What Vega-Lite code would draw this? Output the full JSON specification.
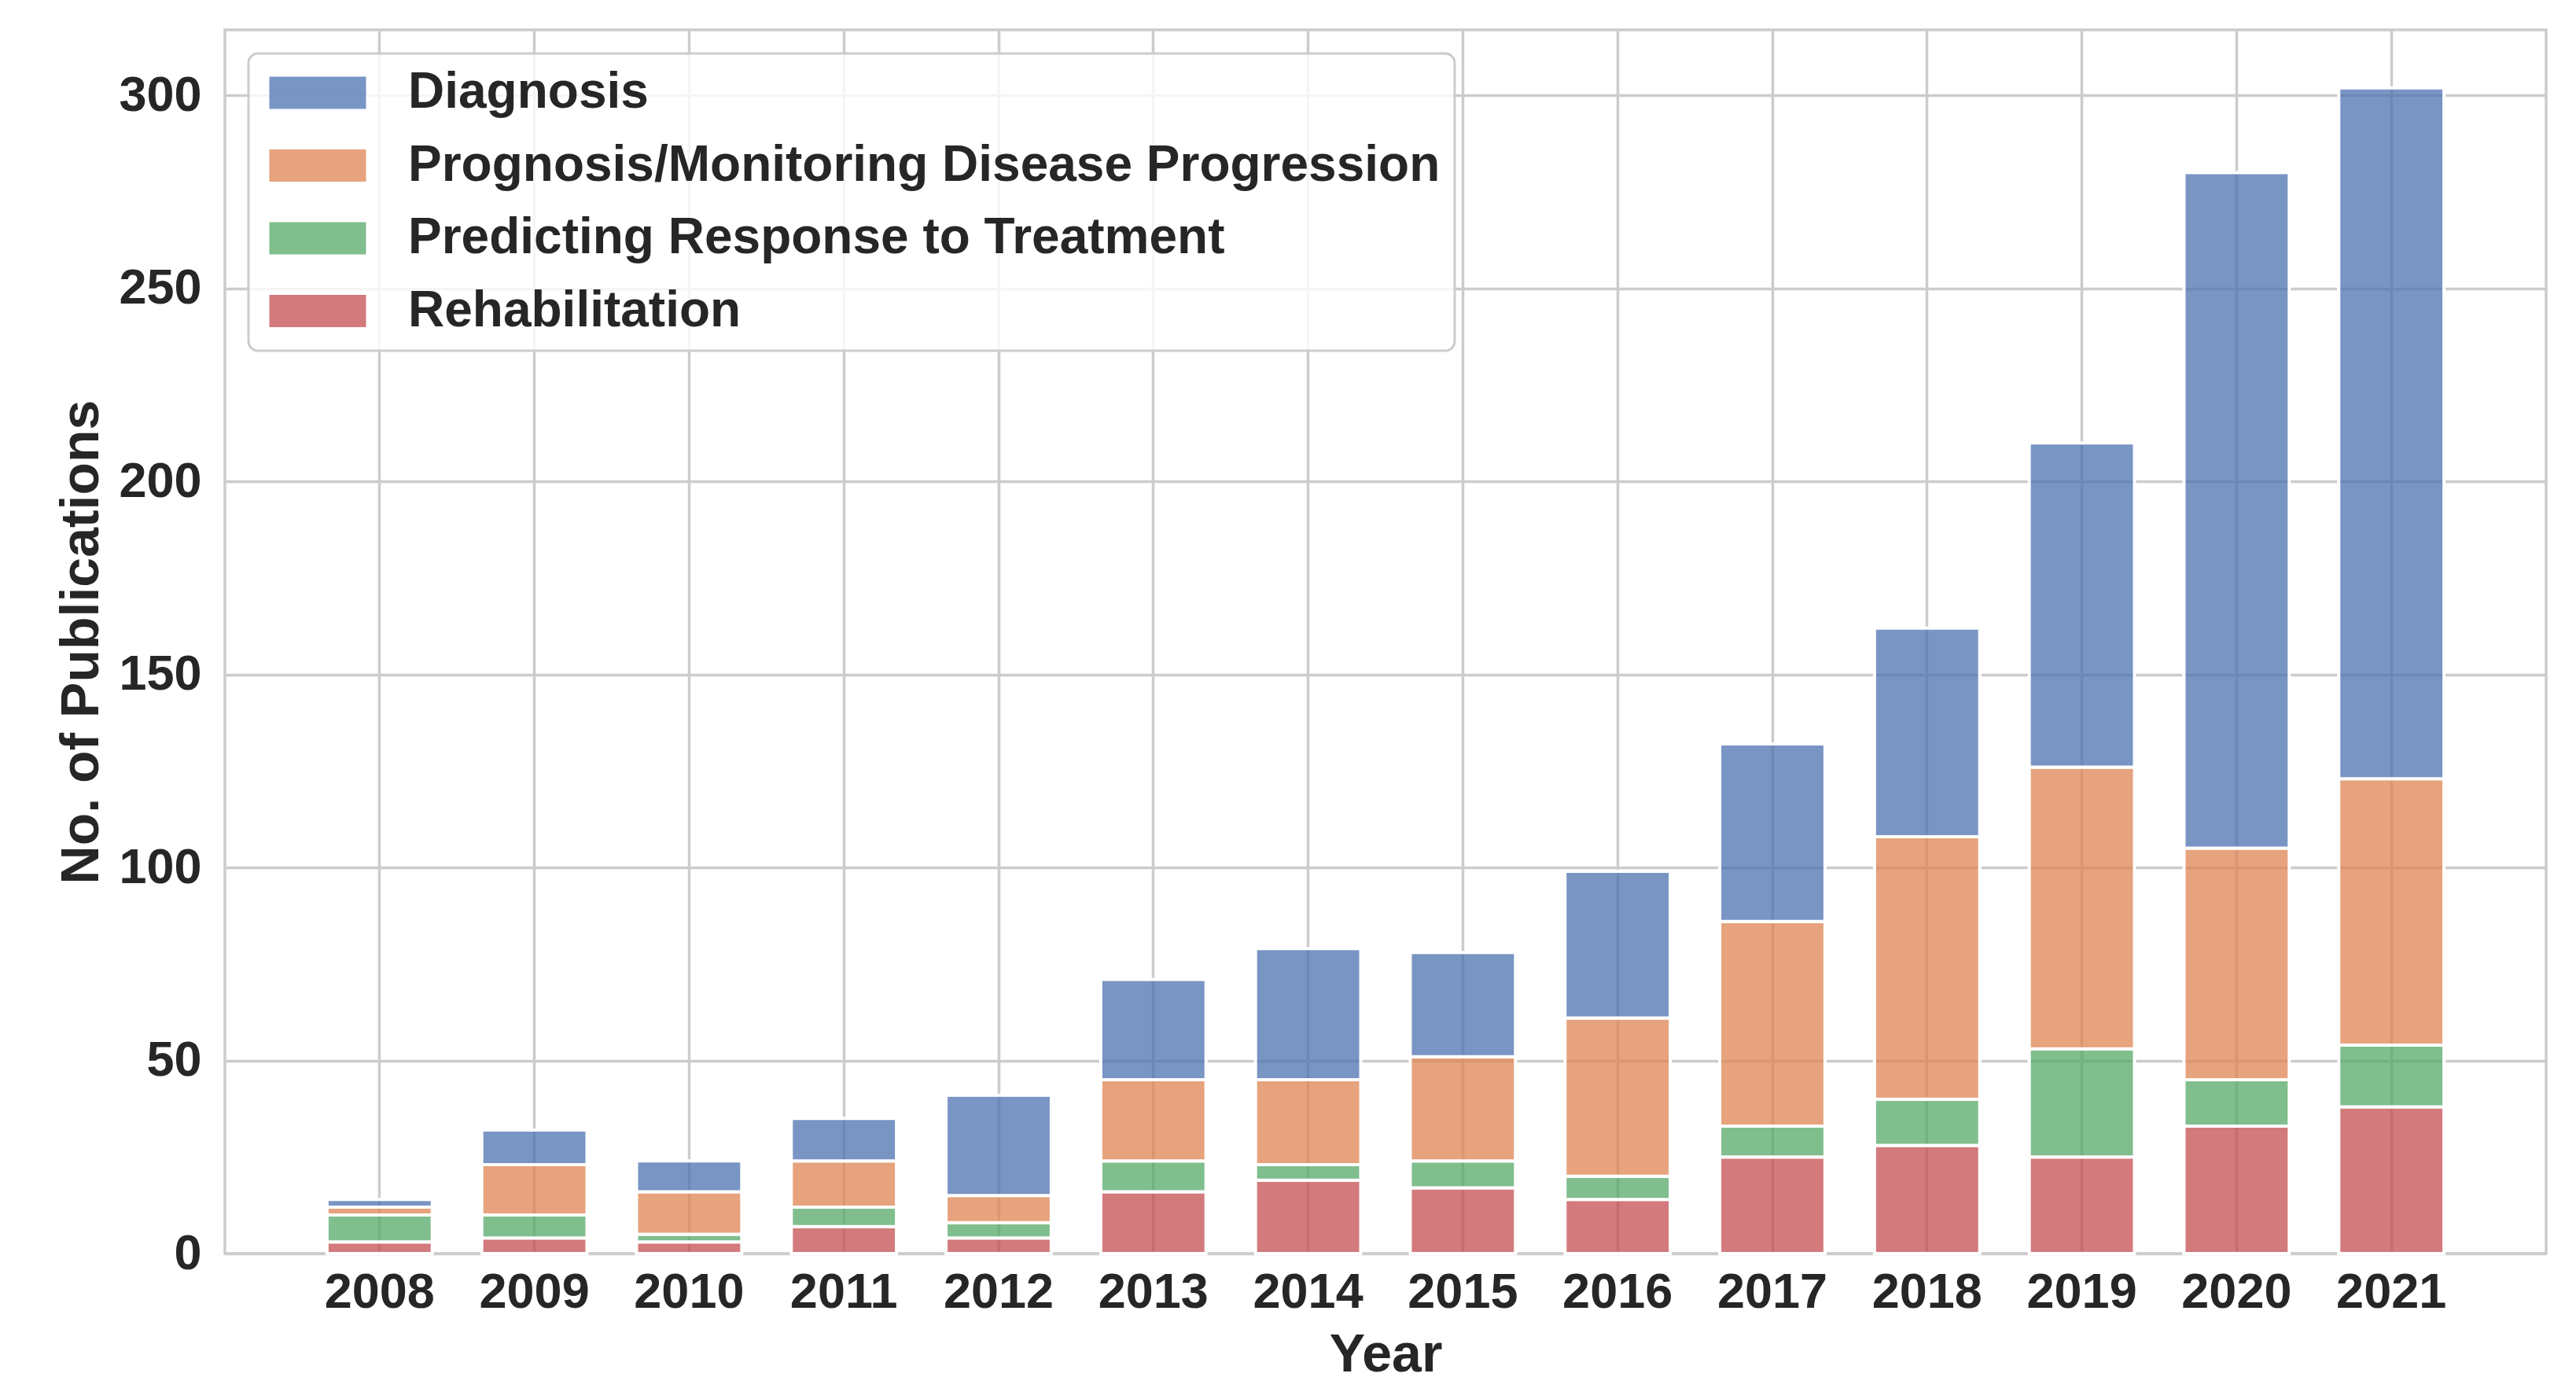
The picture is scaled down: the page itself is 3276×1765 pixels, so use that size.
{
  "$schema": "https://vega.github.io/schema/vega-lite/v6.json",
  "width": 2952,
  "height": 1556,
  "autosize": {"type": "none"},
  "padding": {"left": 286, "top": 38, "right": 38, "bottom": 171},
  "background": "white",
  "config": {
    "font": "Liberation Sans",
    "view": {"stroke": "#cccccc", "strokeWidth": 3.5},
    "axis": {
      "labelFont": "Liberation Sans",
      "titleFont": "Liberation Sans",
      "labelFontWeight": "bold",
      "titleFontWeight": "bold",
      "labelColor": "#262626",
      "titleColor": "#262626",
      "labelFontSize": 63,
      "titleFontSize": 68,
      "ticks": false,
      "domain": false,
      "grid": true,
      "gridColor": "#cccccc",
      "gridWidth": 3.5
    },
    "legend": {
      "labelFont": "Liberation Sans",
      "labelFontWeight": "bold",
      "labelFontSize": 64,
      "labelColor": "#262626",
      "labelLimit": 3000,
      "labelOffset": 83,
      "symbolOffset": 38,
      "rowPadding": 28.5,
      "padding": 18,
      "strokeColor": "#cccccc",
      "strokeWidth": 3,
      "cornerRadius": 12,
      "fillColor": "rgba(255,255,255,0.8)",
      "symbolType": "M-3,-1H3V1H-3Z",
      "symbolSize": 1681,
      "symbolStrokeWidth": 0,
      "symbolOpacity": 0.75
    }
  },
  "data": {
    "values": [
      {"year": "2008", "category": "Rehabilitation", "count": 3, "stack": 1},
      {"year": "2008", "category": "Predicting Response to Treatment", "count": 7, "stack": 2},
      {"year": "2008", "category": "Prognosis/Monitoring Disease Progression", "count": 2, "stack": 3},
      {"year": "2008", "category": "Diagnosis", "count": 2, "stack": 4},
      {"year": "2009", "category": "Rehabilitation", "count": 4, "stack": 1},
      {"year": "2009", "category": "Predicting Response to Treatment", "count": 6, "stack": 2},
      {"year": "2009", "category": "Prognosis/Monitoring Disease Progression", "count": 13, "stack": 3},
      {"year": "2009", "category": "Diagnosis", "count": 9, "stack": 4},
      {"year": "2010", "category": "Rehabilitation", "count": 3, "stack": 1},
      {"year": "2010", "category": "Predicting Response to Treatment", "count": 2, "stack": 2},
      {"year": "2010", "category": "Prognosis/Monitoring Disease Progression", "count": 11, "stack": 3},
      {"year": "2010", "category": "Diagnosis", "count": 8, "stack": 4},
      {"year": "2011", "category": "Rehabilitation", "count": 7, "stack": 1},
      {"year": "2011", "category": "Predicting Response to Treatment", "count": 5, "stack": 2},
      {"year": "2011", "category": "Prognosis/Monitoring Disease Progression", "count": 12, "stack": 3},
      {"year": "2011", "category": "Diagnosis", "count": 11, "stack": 4},
      {"year": "2012", "category": "Rehabilitation", "count": 4, "stack": 1},
      {"year": "2012", "category": "Predicting Response to Treatment", "count": 4, "stack": 2},
      {"year": "2012", "category": "Prognosis/Monitoring Disease Progression", "count": 7, "stack": 3},
      {"year": "2012", "category": "Diagnosis", "count": 26, "stack": 4},
      {"year": "2013", "category": "Rehabilitation", "count": 16, "stack": 1},
      {"year": "2013", "category": "Predicting Response to Treatment", "count": 8, "stack": 2},
      {"year": "2013", "category": "Prognosis/Monitoring Disease Progression", "count": 21, "stack": 3},
      {"year": "2013", "category": "Diagnosis", "count": 26, "stack": 4},
      {"year": "2014", "category": "Rehabilitation", "count": 19, "stack": 1},
      {"year": "2014", "category": "Predicting Response to Treatment", "count": 4, "stack": 2},
      {"year": "2014", "category": "Prognosis/Monitoring Disease Progression", "count": 22, "stack": 3},
      {"year": "2014", "category": "Diagnosis", "count": 34, "stack": 4},
      {"year": "2015", "category": "Rehabilitation", "count": 17, "stack": 1},
      {"year": "2015", "category": "Predicting Response to Treatment", "count": 7, "stack": 2},
      {"year": "2015", "category": "Prognosis/Monitoring Disease Progression", "count": 27, "stack": 3},
      {"year": "2015", "category": "Diagnosis", "count": 27, "stack": 4},
      {"year": "2016", "category": "Rehabilitation", "count": 14, "stack": 1},
      {"year": "2016", "category": "Predicting Response to Treatment", "count": 6, "stack": 2},
      {"year": "2016", "category": "Prognosis/Monitoring Disease Progression", "count": 41, "stack": 3},
      {"year": "2016", "category": "Diagnosis", "count": 38, "stack": 4},
      {"year": "2017", "category": "Rehabilitation", "count": 25, "stack": 1},
      {"year": "2017", "category": "Predicting Response to Treatment", "count": 8, "stack": 2},
      {"year": "2017", "category": "Prognosis/Monitoring Disease Progression", "count": 53, "stack": 3},
      {"year": "2017", "category": "Diagnosis", "count": 46, "stack": 4},
      {"year": "2018", "category": "Rehabilitation", "count": 28, "stack": 1},
      {"year": "2018", "category": "Predicting Response to Treatment", "count": 12, "stack": 2},
      {"year": "2018", "category": "Prognosis/Monitoring Disease Progression", "count": 68, "stack": 3},
      {"year": "2018", "category": "Diagnosis", "count": 54, "stack": 4},
      {"year": "2019", "category": "Rehabilitation", "count": 25, "stack": 1},
      {"year": "2019", "category": "Predicting Response to Treatment", "count": 28, "stack": 2},
      {"year": "2019", "category": "Prognosis/Monitoring Disease Progression", "count": 73, "stack": 3},
      {"year": "2019", "category": "Diagnosis", "count": 84, "stack": 4},
      {"year": "2020", "category": "Rehabilitation", "count": 33, "stack": 1},
      {"year": "2020", "category": "Predicting Response to Treatment", "count": 12, "stack": 2},
      {"year": "2020", "category": "Prognosis/Monitoring Disease Progression", "count": 60, "stack": 3},
      {"year": "2020", "category": "Diagnosis", "count": 175, "stack": 4},
      {"year": "2021", "category": "Rehabilitation", "count": 38, "stack": 1},
      {"year": "2021", "category": "Predicting Response to Treatment", "count": 16, "stack": 2},
      {"year": "2021", "category": "Prognosis/Monitoring Disease Progression", "count": 69, "stack": 3},
      {"year": "2021", "category": "Diagnosis", "count": 179, "stack": 4}
    ]
  },
  "mark": {"type": "bar", "fillOpacity": 0.75, "stroke": "white", "strokeWidth": 4},
  "encoding": {
    "x": {
      "field": "year",
      "type": "ordinal",
      "scale": {"paddingInner": 0.32, "paddingOuter": 0.66},
      "axis": {"title": "Year", "labelAngle": 0, "labelPadding": 18, "titlePadding": 14}
    },
    "y": {
      "field": "count",
      "type": "quantitative",
      "stack": "zero",
      "scale": {"domain": [0, 317], "nice": false, "zero": true},
      "axis": {"title": "No. of Publications", "values": [0, 50, 100, 150, 200, 250, 300], "labelPadding": 30, "titlePadding": 12}
    },
    "color": {
      "field": "category",
      "type": "nominal",
      "scale": {
        "domain": ["Diagnosis", "Prognosis/Monitoring Disease Progression", "Predicting Response to Treatment", "Rehabilitation"],
        "range": ["#4C72B0", "#DD8452", "#55A868", "#C44E52"]
      },
      "legend": {"title": null, "orient": "top-left", "offset": 30}
    },
    "order": {"field": "stack", "type": "quantitative", "sort": "ascending"}
  }
}
